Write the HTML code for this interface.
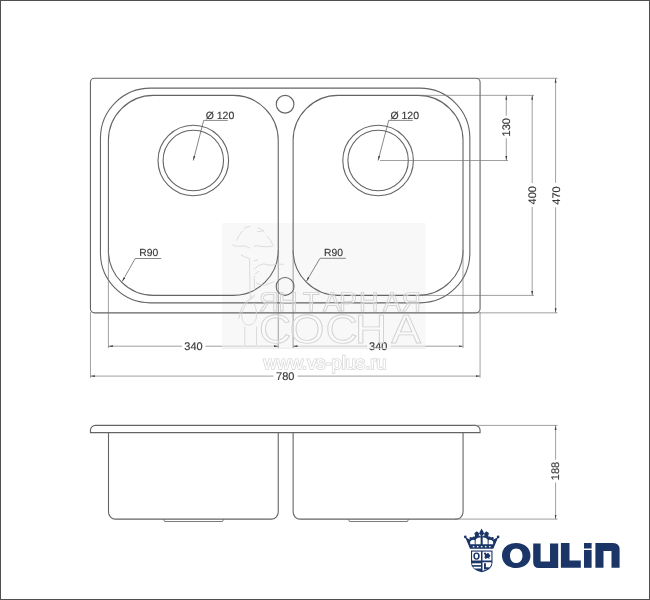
<!DOCTYPE html>
<html><head><meta charset="utf-8">
<style>
html,body{margin:0;padding:0;background:#fff;}
body{width:650px;height:600px;overflow:hidden;}
svg{display:block;will-change:transform;}
text{font-family:"Liberation Sans",sans-serif;fill:#383838;stroke:#383838;stroke-width:0.15;text-rendering:geometricPrecision;}
.wmt text{fill:#fff;fill-opacity:0.35;stroke:#d2d2d2;stroke-width:0.9;}
</style></head>
<body>
<svg width="650" height="600" viewBox="0 0 650 600">
<defs>
<marker id="ar" viewBox="0 0 10 4" refX="10" refY="2" markerWidth="4.5" markerHeight="2.5" orient="auto-start-reverse" markerUnits="userSpaceOnUse">
<path d="M0,0 L10,2 L0,4 z" fill="#3c3c3c"/>
</marker>
</defs>
<rect width="650" height="600" fill="#fff"/>
<rect x="0.5" y="0.5" width="649" height="599" fill="none" stroke="#505050" stroke-width="1"/>

<rect x="222" y="223" width="203.5" height="125.5" fill="#f8f8f8"/>
<!-- PLAN VIEW main contours -->
<g fill="none" stroke="#646464" stroke-width="1.1">
<rect x="90.44" y="78.3" width="389.63" height="234.55" rx="4"/>
<rect x="100.45" y="88.15" width="369.4" height="214.7" rx="50"/>
<rect x="108.4" y="95.35" width="169.85" height="200.05" rx="45"/>
<rect x="293.12" y="95.35" width="169.9" height="200.05" rx="45"/>
<circle cx="285.1" cy="104.25" r="8.85"/>
<circle cx="285.1" cy="286.4" r="8.95"/>
<circle cx="193.3" cy="160.5" r="35.3"/>
<circle cx="193.3" cy="160.5" r="30.2"/>
<circle cx="378.1" cy="160.5" r="35.3"/>
<circle cx="378.1" cy="160.5" r="30.2"/>
</g>

<!-- extension lines -->
<g fill="none" stroke="#777" stroke-width="0.7">
<line x1="108.4" y1="250" x2="108.4" y2="348"/>
<line x1="278.25" y1="250" x2="278.25" y2="348"/>
<line x1="293.12" y1="250" x2="293.12" y2="348"/>
<line x1="463.02" y1="250" x2="463.02" y2="348"/>
<line x1="90.44" y1="312" x2="90.44" y2="377.8"/>
<line x1="480.07" y1="312" x2="480.07" y2="377.8"/>
<line x1="420" y1="95.35" x2="534" y2="95.35"/>
<line x1="420" y1="295.4" x2="534" y2="295.4"/>
<line x1="478" y1="78.3" x2="557.5" y2="78.3"/>
<line x1="478" y1="312.85" x2="557.5" y2="312.85"/>
<line x1="380" y1="160.5" x2="508" y2="160.5"/>
</g>

<!-- dimension lines -->
<g fill="none" stroke="#777" stroke-width="0.7">
<line x1="108.4" y1="346.2" x2="182" y2="346.2" marker-start="url(#ar)"/>
<line x1="205.5" y1="346.2" x2="278.25" y2="346.2" marker-end="url(#ar)"/>
<line x1="293.12" y1="346.2" x2="367" y2="346.2" marker-start="url(#ar)"/>
<line x1="390.5" y1="346.2" x2="463.02" y2="346.2" marker-end="url(#ar)"/>
<line x1="90.44" y1="376.1" x2="273.5" y2="376.1" marker-start="url(#ar)"/>
<line x1="297.5" y1="376.1" x2="480.07" y2="376.1" marker-end="url(#ar)"/>
<line x1="506.3" y1="95.35" x2="506.3" y2="115.7" marker-start="url(#ar)"/>
<line x1="506.3" y1="138.3" x2="506.3" y2="160.5" marker-end="url(#ar)"/>
<line x1="532.2" y1="95.35" x2="532.2" y2="183" marker-start="url(#ar)"/>
<line x1="532.2" y1="207" x2="532.2" y2="295.4" marker-end="url(#ar)"/>
<line x1="555.6" y1="78.3" x2="555.6" y2="182.8" marker-start="url(#ar)"/>
<line x1="555.6" y1="207.3" x2="555.6" y2="312.85" marker-end="url(#ar)"/>
</g>

<!-- leaders -->
<g fill="none" stroke="#555" stroke-width="0.7">
<polyline points="193.3,160.5 203.7,120.4 227.8,120.4" marker-start="url(#ar)"/>
<polyline points="378.1,160.5 388.7,120.4 412.8,120.4" marker-start="url(#ar)"/>
<polyline points="122.2,281.5 135.2,258.5 161.2,258.5" marker-start="url(#ar)"/>
</g>

<g font-size="11">
<text x="193.5" y="350.2" text-anchor="middle">340</text>
<text x="378.3" y="350.2" text-anchor="middle">340</text>
<text x="285.3" y="380.2" text-anchor="middle">780</text>
<text x="205.7" y="118.9" font-size="10.5">Ø 120</text>
<text x="390.4" y="118.9" font-size="10.5">Ø 120</text>
<text x="139.3" y="256" font-size="10.3">R90</text>
<text transform="translate(510.2,127.3) rotate(-90)" text-anchor="middle">130</text>
<text transform="translate(535.8,195.3) rotate(-90)" text-anchor="middle">400</text>
<text transform="translate(559.7,195.5) rotate(-90)" text-anchor="middle">470</text>
<text transform="translate(559.4,471) rotate(-90)" text-anchor="middle">188</text>
</g>


<!-- second R90 leader -->
<g fill="none" stroke="#555" stroke-width="0.7">
<polyline points="306.5,281.2 320,258.3 345.8,258.3" marker-start="url(#ar)"/>
</g>
<text x="324" y="255.7" font-size="10.3">R90</text>

<!-- ELEVATION VIEW -->
<g fill="none" stroke="#646464" stroke-width="1.1">
<path d="M90.4,432.6 L90.4,430.4 A5,5 0 0 1 95.4,425.4 L475.1,425.4 A5,5 0 0 1 480.1,430.4 L480.1,432.6 Z"/>
<path d="M108.5,432.6 L108.5,512.1 A7,7 0 0 0 115.5,519.1 L271.25,519.1 A7,7 0 0 0 278.25,512.1 L278.25,432.6"/>
<path d="M293.12,432.6 L293.12,512.1 A7,7 0 0 0 300.12,519.1 L456.05,519.1 A7,7 0 0 0 463.05,512.1 L463.05,432.6"/>
</g>
<g fill="none" stroke="#6c6c6c" stroke-width="0.9">
<path d="M163.4,519.1 L164.6,521.5 L222.5,521.5 L223.7,519.1"/>
<path d="M348.3,519.1 L349.5,521.5 L407.4,521.5 L408.6,519.1"/>
</g>
<g fill="none" stroke="#777" stroke-width="0.7">
<line x1="472" y1="425.4" x2="557.5" y2="425.4"/>
<line x1="455" y1="519.1" x2="557.5" y2="519.1"/>
<line x1="555.6" y1="425.4" x2="555.6" y2="459.7" marker-start="url(#ar)"/>
<line x1="555.6" y1="482.5" x2="555.6" y2="519.1" marker-end="url(#ar)"/>
</g>


<!-- WATERMARK -->
<g id="wm">
<g fill="none" stroke="#d4d4d4" stroke-width="0.8" stroke-linecap="round" stroke-linejoin="round">
<path d="M236.7,240.4 Q238.5,235 242.5,231 M244,228.5 Q247,226.3 250,226.5 M258,227.5 Q262,229 264.5,232 M267,236 Q270,239 272.8,244.5"/>
<path d="M232.6,245 Q236,247.5 241,246 Q246,245.2 249.5,248 M254.2,246.3 Q258,245 262,246.6 Q267,247.5 272.8,246"/>
<path d="M257.7,231.7 Q260.5,231.8 263.5,230.5"/>
<path d="M241.3,255 Q245,257.5 249.5,258.5 L250,292"/>
<path d="M254.2,260.8 L257.7,259.7 M254.2,269 Q258,265 263.5,263.8 Q268,265.5 272.8,265 Q278,263.5 283.3,264.3 M255.3,273.7 L258.8,271.3 M256.5,283 Q260,285.5 264.7,285.3 Q269,283.5 274,281.8 M254.2,276 L254.5,290"/>
<path d="M254.2,296.5 Q248,300 244.8,306 Q240,314 242.5,320 Q245,326 250,325 Q256,323 256.5,316 Q257,309 254,303"/>
<path d="M239,318.5 Q240,308 245,303 Q250,298 254.2,295 M250,292 L250.5,298"/>
<path d="M244.8,327 L244.8,345.3 M256.5,327 L256.5,345.3"/>
</g>
<g class="wmt" stroke="#d2d2d2" stroke-width="0.9">
<text x="258.9" y="310.8" font-size="27">Я</text>
<text x="278.3" y="310.8" font-size="27">Н</text>
<text x="302.9" y="310.8" font-size="27">Т</text>
<text x="323" y="310.8" font-size="27">А</text>
<text x="339" y="310.8" font-size="27">Р</text>
<text x="359.1" y="310.8" font-size="27">Н</text>
<text x="383" y="310.8" font-size="27">А</text>
<text x="401.5" y="310.8" font-size="27">Я</text>
<text transform="translate(259,343) scale(1.1,1)" font-size="40.5">С</text>
<text transform="translate(289.7,343) scale(1.1,1)" font-size="40.5">О</text>
<text transform="translate(325.4,343) scale(1.1,1)" font-size="40.5">С</text>
<text transform="translate(354.9,343) scale(1.1,1)" font-size="40.5">Н</text>
<text transform="translate(391.2,343) scale(1.1,1)" font-size="40.5">А</text>
<text x="263.5" y="369.4" font-size="18.5" textLength="123" lengthAdjust="spacingAndGlyphs" style="stroke-width:1.6;stroke:#d8d8d8;paint-order:stroke;fill-opacity:1">www.vs-plus.ru</text>
</g>
</g>

<rect x="222" y="345.2" width="52" height="2" fill="#fff" opacity="0.5"/>
<rect x="297.5" y="345.2" width="69" height="2" fill="#fff" opacity="0.5"/>
<rect x="390" y="345.2" width="35.5" height="2" fill="#fff" opacity="0.5"/>
<line x1="222" y1="348.3" x2="425.5" y2="348.3" stroke="#e6e6e6" stroke-width="0.8"/>
<!-- LOGO -->
<g fill="#1a3566">
<!-- O -->
<path fill-rule="evenodd" d="M516.2,543 C524.5,543 530.5,548 530.5,555.5 C530.5,563 524.5,568 516.2,568 C507.9,568 502,563 502,555.5 C502,548 507.9,543 516.2,543 Z M516.2,548.5 C512.6,548.5 510,551.3 510,555.7 C510,560.1 512.6,563 516.2,563 C519.9,563 522.5,560.1 522.5,555.7 C522.5,551.3 519.9,548.5 516.2,548.5 Z"/>
<!-- U -->
<path d="M533.2,543.5 L540.6,543.5 L540.6,561.5 L550,561.5 L550,543.5 L558.2,543.5 L558.2,568 L539,568 Q533.2,568 533.2,562 Z"/>
<!-- L -->
<path d="M560.9,543.1 L569.5,543.1 L569.5,560.5 L580.8,560.5 L580.8,567.8 L560.9,567.8 Z"/>
<!-- i -->
<rect x="584" y="543" width="7.6" height="5.5"/>
<rect x="584" y="550" width="7.6" height="17.8"/>
<!-- n -->
<path d="M595.4,543 L613,543 Q619.6,543 619.6,549.5 L619.6,567.8 L611.5,567.8 L611.5,551 L603.5,551 L603.5,567.8 L595.4,567.8 Z"/>

<!-- crown -->
<path d="M465.1,537.1 L470,548.8 L493.3,548.8 L498.3,537.1 L493.5,539.5 L491.5,537.3 L489,537.6 L488.2,535.5 L489,533.2 L486.4,531.2 L484,533.5 L483.8,532.5 L481.6,528.6 L479.4,532.5 L479.3,533.5 L476.9,531.2 L474.3,533.2 L475.1,535.5 L474.2,537.6 L471.7,537.3 L469.7,539.5 Z"/>
<circle cx="465.3" cy="536.9" r="1.35"/>
<circle cx="498.1" cy="536.9" r="1.35"/>
<circle cx="470.6" cy="538.2" r="1.1"/>
<circle cx="492.7" cy="538.2" r="1.1"/>
<circle cx="473.7" cy="537.6" r="1.1"/>
<circle cx="489.6" cy="537.6" r="1.1"/>
</g>
<g fill="#fff">
<path d="M470.2,544.3 L470.2,541.6 Q471.8,538.9 474.6,539.9 L474.8,544.3 Z"/>
<path d="M475.6,544.3 L475.7,539.6 Q477.6,537 480.6,537.6 L480.6,544.3 Z"/>
<path d="M482.7,544.3 L482.7,537.6 Q485.7,537 487.6,539.6 L487.7,544.3 Z"/>
<path d="M488.5,544.3 L488.7,539.9 Q491.5,538.9 493.1,541.6 L493.1,544.3 Z"/>
<path d="M479.2,533.6 L480.9,535.6 L480.7,536.4 L478.6,535.6 Z" opacity="0.8"/>
<path d="M484.1,533.6 L482.4,535.6 L482.6,536.4 L484.7,535.6 Z" opacity="0.8"/>
<rect x="472.8" y="546.1" width="1.6" height="1.2"/>
<rect x="476.9" y="546.1" width="1.6" height="1.2"/>
<rect x="480.9" y="546.1" width="1.6" height="1.2"/>
<rect x="484.9" y="546.1" width="1.6" height="1.2"/>
<rect x="489" y="546.1" width="1.6" height="1.2"/>
</g>
<!-- shield -->
<path fill="#1a3566" d="M471,550.5 L492.5,550.5 L492.5,562.4 Q492.5,569.5 481.7,572.2 Q471,569.5 471,562.4 Z"/>
<g fill="#fff">
<rect x="472.1" y="551.6" width="8.9" height="8.9"/>
<rect x="482.5" y="551.6" width="8.9" height="8.9"/>
<path d="M482.5,562.2 L491.4,562.2 L491.4,563.5 Q491,568.5 482.5,570.8 Z"/>
<rect x="472.2" y="563.3" width="8.8" height="1.8"/>
<path d="M472.8,566.8 L481,566.8 L481,568.5 L474.5,568.5 Z"/>
</g>
<g fill="#1a3566">
<path fill-rule="evenodd" d="M476.5,552.4 A3.2,3.7 0 1 1 476.5,559.8 A3.2,3.7 0 1 1 476.5,552.4 Z M476.5,553.8 A1.65,2.3 0 1 0 476.5,558.4 A1.65,2.3 0 1 0 476.5,553.8 Z"/>
<path d="M483.8,553 L485.5,552.5 L486.5,554 L488,552.8 L489.5,554.5 L490.5,556 L489,557.5 L489.8,559 L487.5,558 L485.5,559 L484.5,557.5 L485,555.5 Z"/>
<path d="M484,563.2 L485.9,563.2 L485.9,567.3 L489,567.3 L488.6,568.9 L484,569.6 Z"/>
</g>
</svg>
</body></html>
